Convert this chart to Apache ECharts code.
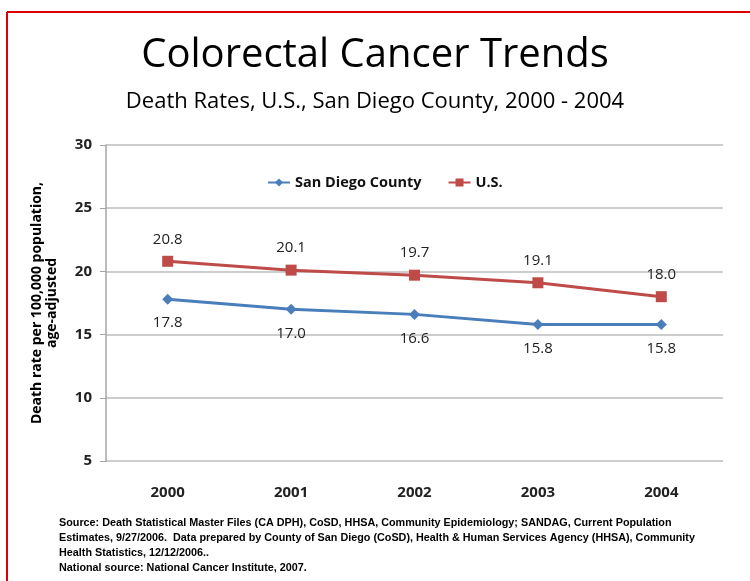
<!DOCTYPE html>
<html><head><meta charset="utf-8">
<script src="https://cdn.jsdelivr.net/npm/echarts@6/dist/echarts.min.js"></script>
<style>html,body{margin:0;padding:0;background:#fff}#c{width:750px;height:581px}</style>
</head><body><div id="c"></div>
<script>
const years = ['2000','2001','2002','2003','2004'];
const sanDiego = [17.8, 17.0, 16.6, 15.8, 15.8];
const us = [20.8, 20.1, 19.7, 19.1, 18.0];
const yTicks = [5, 10, 15, 20, 25, 30];

const chart = echarts.init(document.getElementById('c'));
const fam = '"Open Sans", "Liberation Sans", sans-serif';
chart.setOption({
  backgroundColor: '#fff',
  animation: false,
  title: [
    {text: 'Colorectal Cancer Trends', left: 'center', top: 31,
     textStyle: {fontFamily: fam, fontSize: 40, fontWeight: 'normal', color: '#000'}},
    {text: 'Death Rates, U.S., San Diego County, 2000 - 2004', left: 'center', top: 86,
     textStyle: {fontFamily: fam, fontSize: 22, fontWeight: 'normal', color: '#000'}},
    {text: 'Source: Death Statistical Master Files (CA DPH), CoSD, HHSA, Community Epidemiology; SANDAG, Current Population\nEstimates, 9/27/2006.  Data prepared by County of San Diego (CoSD), Health & Human Services Agency (HHSA), Community\nHealth Statistics, 12/12/2006..\nNational source: National Cancer Institute, 2007.',
     left: 54, top: 511,
     textStyle: {fontFamily: '"Liberation Sans Narrow", "Liberation Sans", sans-serif', fontSize: 10.8, fontWeight: 'bold', color: '#000', lineHeight: 15}}
  ],
  legend: {
    top: 170, left: 262, itemGap: 26, itemWidth: 22, itemHeight: 10,
    textStyle: {fontFamily: fam, fontSize: 14.5, fontWeight: 'bold', color: '#111'},
    data: ['San Diego County', 'U.S.']
  },
  grid: {left: 106, right: 27, top: 145, bottom: 120},
  xAxis: {
    type: 'category', data: years, boundaryGap: true,
    axisLine: {show: false}, axisTick: {show: false},
    axisLabel: {fontFamily: fam, fontSize: 15, fontWeight: 'bold', color: '#222', margin: 24}
  },
  yAxis: {
    type: 'value', min: 5, max: 30, interval: 5,
    name: 'Death rate per 100,000 population,\nage-adjusted',
    nameLocation: 'middle', nameGap: 46, nameRotate: 90,
    nameTextStyle: {fontFamily: fam, fontSize: 14, fontWeight: 'bold', color: '#000', lineHeight: 15},
    axisLine: {show: true, lineStyle: {color: '#a6a6a6', width: 1.5}},
    axisTick: {show: true, length: 6, lineStyle: {color: '#a6a6a6'}},
    axisLabel: {fontFamily: fam, fontSize: 15, fontWeight: 'bold', color: '#222', margin: 14,
      formatter: v => yTicks.includes(v) ? String(v) : ''},
    splitLine: {lineStyle: {color: '#bdbdbd', width: 1.5}}
  },
  series: [
    {name: 'San Diego County', type: 'line', data: sanDiego,
     symbol: 'diamond', symbolSize: 11,
     itemStyle: {color: '#4a7ebb'}, lineStyle: {color: '#4a7ebb', width: 3},
     label: {show: true, position: 'bottom', distance: 11, formatter: p => p.value.toFixed(1),
       fontFamily: fam, fontSize: 15, fontWeight: 500, color: '#222'}},
    {name: 'U.S.', type: 'line', data: us,
     symbol: 'rect', symbolSize: 11,
     itemStyle: {color: '#be4b48'}, lineStyle: {color: '#be4b48', width: 3},
     label: {show: true, position: 'top', distance: 9, formatter: p => p.value.toFixed(1),
       fontFamily: fam, fontSize: 15, fontWeight: 500, color: '#222'}}
  ],
  graphic: [
    {type: 'line', shape: {x1: 7, y1: 12, x2: 750, y2: 12}, style: {stroke: '#e00000', lineWidth: 2}},
    {type: 'line', shape: {x1: 7, y1: 12, x2: 7, y2: 581}, style: {stroke: '#e00000', lineWidth: 2}}
  ]
});
</script></body></html>
